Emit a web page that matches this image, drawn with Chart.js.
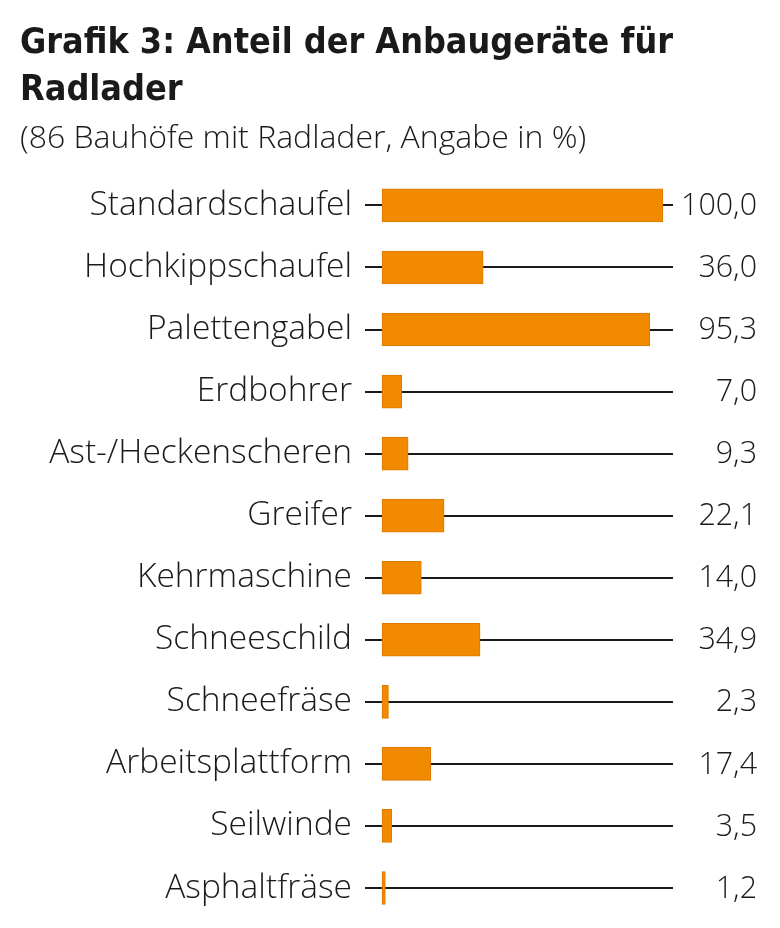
<!DOCTYPE html>
<html>
<head>
<meta charset="utf-8">
<script src="https://cdn.jsdelivr.net/npm/chart.js@4.4.1/dist/chart.umd.min.js"></script>
<style>
  html, body { margin: 0; padding: 0; background: #ffffff; }
  #wrap { width: 780px; height: 928px; position: relative; }
</style>
</head>
<body>
<div id="wrap"><canvas id="c"></canvas></div>
<script>
const titleLines = ['Grafik 3: Anteil der Anbaugeräte für', 'Radlader'];
const subtitleText = '(86 Bauhöfe mit Radlader, Angabe in %)';
const categories = ['Standardschaufel', 'Hochkippschaufel', 'Palettengabel', 'Erdbohrer',
  'Ast-/Heckenscheren', 'Greifer', 'Kehrmaschine', 'Schneeschild', 'Schneefräse',
  'Arbeitsplattform', 'Seilwinde', 'Asphaltfräse'];
const shares = [100.0, 36.0, 95.3, 7.0, 9.3, 22.1, 14.0, 34.9, 2.3, 17.4, 3.5, 1.2];

const ink = '#1a1a1a';
const orange = '#f28a00';
const labelFamily = '"Open Sans", Roboto, "Liberation Sans", sans-serif';
const titleFamily = '"Liberation Sans Narrow", "DejaVu Sans Condensed", Roboto, sans-serif';

function fitSize(text, family, weight, target) {
  const ctx = document.createElement('canvas').getContext('2d');
  ctx.font = weight + ' 100px ' + family;
  return 100 * target / ctx.measureText(text).width;
}
const titleSize = Math.min(38, fitSize(titleLines[0], titleFamily, 'bold', 655));
const subSize = Math.min(32, fitSize(subtitleText, labelFamily, '300', 607));
const labelSize = Math.min(33.5, fitSize('Standardschaufel', labelFamily, '300', 267));
const valueSize = Math.min(33, fitSize('100,0', labelFamily, '300', 76));

const leaderLines = {
  id: 'leaderLines',
  beforeDatasetsDraw(chart) {
    const { ctx, chartArea, scales } = chart;
    ctx.save();
    ctx.strokeStyle = ink;
    ctx.lineWidth = 2;
    categories.forEach((c, i) => {
      const y = Math.round(scales.y.getPixelForValue(i));
      ctx.beginPath();
      ctx.moveTo(chartArea.left, y);
      ctx.lineTo(chartArea.right, y);
      ctx.stroke();
    });
    ctx.restore();
  }
};

const valueLabels = {
  id: 'valueLabels',
  afterDatasetsDraw(chart) {
    const { ctx, scales } = chart;
    ctx.save();
    ctx.fillStyle = ink;
    ctx.font = '300 ' + valueSize + 'px ' + labelFamily;
    ctx.textAlign = 'right';
    ctx.textBaseline = 'middle';
    shares.forEach((v, i) => {
      const y = scales.y.getPixelForValue(i);
      ctx.fillText(v.toFixed(1).replace('.', ','), chart.width - 23, y + 1);
    });
    ctx.restore();
  }
};

new Chart(document.getElementById('c'), {
  type: 'bar',
  data: {
    labels: categories,
    datasets: [{
      data: shares,
      backgroundColor: orange,
      borderColor: '#d97a00',
      borderWidth: 1,
      borderSkipped: false,
      barThickness: 33
    }]
  },
  options: {
    indexAxis: 'y',
    responsive: true,
    maintainAspectRatio: false,
    animation: false,
    layout: { padding: { left: 20, right: 107, top: 0, bottom: 9 } },
    plugins: {
      legend: { display: false },
      tooltip: { enabled: false },
      title: {
        display: true,
        text: titleLines,
        align: 'start',
        color: ink,
        font: { family: titleFamily, weight: 'bold', size: titleSize, lineHeight: 47 / titleSize },
        padding: { top: 20, bottom: 6 }
      },
      subtitle: {
        display: true,
        text: subtitleText,
        align: 'start',
        color: ink,
        font: { family: labelFamily, weight: '300', size: subSize, lineHeight: 1.2 },
        padding: { top: 0, bottom: 16 }
      }
    },
    scales: {
      x: { display: false, min: -6.05, max: 103.6 },
      y: {
        grid: { display: false, drawTicks: false },
        border: { display: false },
        ticks: {
          color: ink,
          padding: 13,
          font: { family: labelFamily, weight: '300', size: labelSize }
        },
        afterFit(scale) {
          scale.width = 345;
          scale.paddingTop = 0;
          scale.paddingBottom = 0;
        }
      }
    }
  },
  plugins: [leaderLines, valueLabels]
});
</script>
</body>
</html>
